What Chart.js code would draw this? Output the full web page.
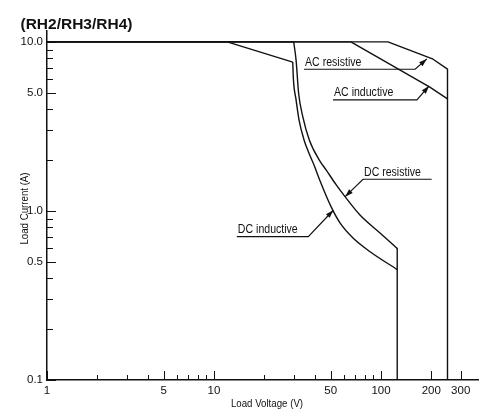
<!DOCTYPE html>
<html>
<head>
<meta charset="utf-8">
<script src="https://cdn.jsdelivr.net/npm/chart.js@4.4.1/dist/chart.umd.min.js"></script>
<style>
  html, body { margin: 0; padding: 0; background: #fff; }
  canvas { display: block; }
</style>
</head>
<body>
<canvas id="chart" width="479" height="410"></canvas>
<script>
// ---- axis ticks ----
const xTicks = [1, 2, 3, 4, 5, 6, 7, 8, 9, 10, 20, 30, 40, 50, 60, 70, 80, 90, 100, 200, 300];
const xLabels = [1, 5, 10, 50, 100, 200, 300];
const yTicks = [0.1, 0.2, 0.3, 0.4, 0.5, 0.6, 0.7, 0.8, 0.9, 1, 2, 3, 4, 5, 6, 7, 8, 9, 10];
const yLabels = [0.1, 0.5, 1, 5, 10];

// ---- curves (load voltage V, load current A) ----
const acResV = [1, 110, 205, 250, 250];
const acResA = [10, 10, 7.9, 6.9, 0.1];
const acIndV = [1, 66, 196, 250];
const acIndA = [10, 10, 5.4, 4.6];
// DC: straight knee + smooth arc, then the common drop at 125 V
const dcResKneeV = [1, 30];
const dcResKneeA = [10, 10];
const dcResArcV = [30, 31.0, 32.1, 34.0, 37.2, 42.7, 46.9, 53.8, 60.9, 74.8, 98.6, 125];
const dcResArcA = [10, 7.8, 4.97, 3.61, 2.63, 2.0, 1.75, 1.43, 1.215, 0.947, 0.741, 0.6];
const dcIndKneeV = [1, 12, 29.6];
const dcIndKneeA = [10, 10, 7.6];
const dcIndArcV = [29.6, 29.9, 31.0, 32.3, 34.6, 37.0, 39.7, 43.1, 50.2, 56.8, 68.2, 86, 125];
const dcIndArcA = [7.6, 5.96, 4.54, 3.45, 2.63, 2.2, 1.87, 1.51, 1.06, 0.849, 0.689, 0.574, 0.45];
const dcDropV = [125, 125];
const dcDropA = [0.6, 0.1];

// ---- callouts: text, arrow tip, elbow, far end of underline ----
const noteText = ['AC resistive', 'AC inductive', 'DC resistive', 'DC inductive'];
const noteTipV = [188, 194, 61, 51.8];
const noteTipA = [7.93, 5.49, 1.215, 1.01];
const noteElbowV = [160, 164, 78, 36.7];
const noteLineA = [6.89, 4.54, 1.54, 0.705];
const noteEndV = [34.6, 51.6, 201, 13.7];

const sans = "'Liberation Sans', Arial, Helvetica, sans-serif";
const ink = '#111';

function pts(xs, ys) {
    return xs.map((v, i) => ({ x: v, y: ys[i] }));
}

function curve(label, xs, ys, smooth) {
    return {
        label: label,
        data: pts(xs, ys),
        borderColor: ink,
        borderWidth: 1.4,
        borderJoinStyle: 'round',
        pointRadius: 0,
        tension: 0,
        cubicInterpolationMode: smooth ? 'monotone' : 'default',
        fill: false
    };
}

// condensed-looking text: squeeze horizontally
function narrowText(ctx, text, x, y, sx) {
    ctx.save();
    ctx.translate(x, y);
    ctx.scale(sx, 1);
    ctx.fillText(text, 0, 0);
    ctx.restore();
}

// inward tick marks, callouts, titles
const markup = {
    id: 'markup',
    afterDraw(chart) {
        const { ctx, chartArea } = chart;
        const x = chart.scales.x, y = chart.scales.y;
        ctx.save();
        ctx.strokeStyle = ink;
        ctx.lineWidth = 1;

        xTicks.forEach(v => {
            const px = Math.round(x.getPixelForValue(v)) + 0.5;
            const len = xLabels.includes(v) ? 9 : 5;
            ctx.beginPath();
            ctx.moveTo(px, chartArea.bottom);
            ctx.lineTo(px, chartArea.bottom - len);
            ctx.stroke();
        });
        yTicks.forEach(v => {
            const py = Math.round(y.getPixelForValue(v)) + 0.5;
            const len = yLabels.includes(v) ? 9 : 6;
            ctx.beginPath();
            ctx.moveTo(chartArea.left, py);
            ctx.lineTo(chartArea.left + len, py);
            ctx.stroke();
        });

        // callouts
        ctx.lineWidth = 1.2;
        ctx.fillStyle = ink;
        ctx.font = '12px ' + sans;
        ctx.textAlign = 'left';
        ctx.textBaseline = 'alphabetic';
        noteText.forEach((t, i) => {
            const tx = x.getPixelForValue(noteTipV[i]), ty = y.getPixelForValue(noteTipA[i]);
            const ex = x.getPixelForValue(noteElbowV[i]), ey = y.getPixelForValue(noteLineA[i]);
            const fx = x.getPixelForValue(noteEndV[i]);
            ctx.beginPath();
            ctx.moveTo(fx, ey);
            ctx.lineTo(ex, ey);
            ctx.lineTo(tx, ty);
            ctx.stroke();
            // arrow head
            const a = Math.atan2(ty - ey, tx - ex);
            ctx.beginPath();
            ctx.moveTo(tx, ty);
            ctx.lineTo(tx - 8 * Math.cos(a) + 2.6 * Math.sin(a), ty - 8 * Math.sin(a) - 2.6 * Math.cos(a));
            ctx.lineTo(tx - 8 * Math.cos(a) - 2.6 * Math.sin(a), ty - 8 * Math.sin(a) + 2.6 * Math.cos(a));
            ctx.closePath();
            ctx.fill();
            narrowText(ctx, t, Math.min(ex, fx) + 1, ey - 3.5, 0.88);
        });

        // axis titles
        ctx.font = '11px ' + sans;
        ctx.textAlign = 'center';
        ctx.textBaseline = 'middle';
        narrowText(ctx, 'Load Voltage (V)', (chartArea.left + chartArea.right) / 2 + 4, chart.height - 6.5, 0.88);
        ctx.save();
        ctx.translate(24.5, (chartArea.top + chartArea.bottom) / 2 + 3);
        ctx.rotate(-Math.PI / 2);
        narrowText(ctx, 'Load Current (A)', 0, 0, 0.88);
        ctx.restore();

        // chart title
        ctx.font = 'bold 15.5px ' + sans;
        ctx.textAlign = 'left';
        ctx.textBaseline = 'alphabetic';
        ctx.fillText('(RH2/RH3/RH4)', 20.5, 29);
        ctx.restore();
    }
};

const ctx = document.getElementById('chart').getContext('2d');
new Chart(ctx, {
    type: 'line',
    data: {
        datasets: [
            curve('AC resistive', acResV, acResA, false),
            curve('AC inductive', acIndV, acIndA, false),
            curve('DC resistive', dcResKneeV, dcResKneeA, false),
            curve('DC resistive arc', dcResArcV, dcResArcA, true),
            curve('DC inductive', dcIndKneeV, dcIndKneeA, false),
            curve('DC inductive arc', dcIndArcV, dcIndArcA, true),
            curve('DC limit', dcDropV, dcDropA, false)
        ]
    },
    options: {
        responsive: false,
        animation: false,
        layout: { padding: { top: 31, left: 0, right: 0, bottom: 0 } },
        plugins: { legend: { display: false }, tooltip: { enabled: false } },
        scales: {
            x: {
                type: 'logarithmic',
                min: 1,
                max: 386,
                afterBuildTicks: s => { s.ticks = xTicks.map(v => ({ value: v })); },
                afterFit: s => { s.height = 30; },
                grid: { display: false, drawTicks: false },
                border: { display: true, color: ink, width: 1.5 },
                ticks: {
                    autoSkip: false,
                    maxRotation: 0,
                    padding: 4,
                    color: ink,
                    font: { family: sans, size: 11.5 },
                    callback: v => xLabels.includes(v) ? String(v) : ''
                }
            },
            y: {
                type: 'logarithmic',
                min: 0.1,
                max: 11.6,
                afterBuildTicks: s => { s.ticks = yTicks.map(v => ({ value: v })); },
                afterFit: s => { s.width = 47; },
                grid: { display: false, drawTicks: false },
                border: { display: true, color: ink, width: 1.5 },
                ticks: {
                    autoSkip: false,
                    padding: 4,
                    color: ink,
                    font: { family: sans, size: 11.5 },
                    callback: v => yLabels.includes(v) ? v.toFixed(1) : ''
                }
            }
        }
    },
    plugins: [markup]
});
</script>
</body>
</html>
